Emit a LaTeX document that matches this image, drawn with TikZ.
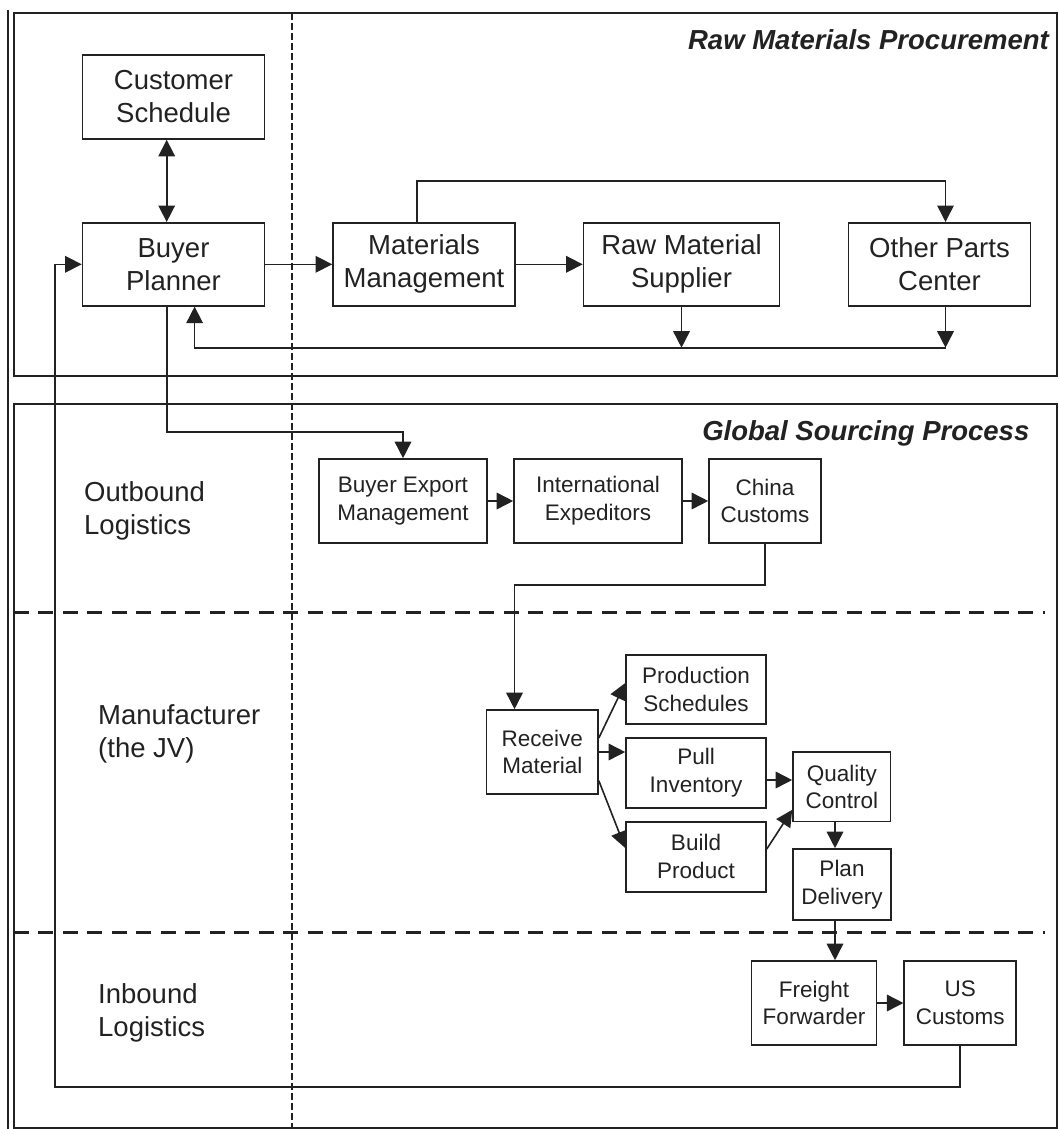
\documentclass[tikz,border=0pt]{standalone}
\usepackage{fontspec}
\setmainfont{Liberation Sans}
\usetikzlibrary{arrows.meta}
\definecolor{ink}{RGB}{34,34,34}
\begin{document}
\begin{tikzpicture}[x=1pt,y=-1pt,
  frame/.style={draw=ink, line width=1.6pt},
  lanesep/.style={draw=ink, line width=3pt, dash pattern=on 15pt off 9.5pt},
  colsep/.style={draw=ink, line width=1.3pt, dash pattern=on 6.5pt off 3.5pt},
  bigbox/.style={draw=ink, line width=1.6pt, text=ink, align=center, inner sep=0pt,
    font=\fontsize{27.5}{33}\selectfont},
  smallbox/.style={bigbox, font=\fontsize{22.5}{27.7}\selectfont},
  sz/.style 2 args={minimum width=#1pt, minimum height=#2pt},
  lane/.style={text=ink, align=left, anchor=west, inner sep=0pt,
    font=\fontsize{27.5}{33}\selectfont},
  heading/.style={text=ink, anchor=base east, inner sep=0pt,
    font=\fontsize{27.5}{33}\selectfont\bfseries\itshape},
  tip/.tip={Triangle[length=16.5pt,width=16.5pt]},
  flow/.style={draw=ink, line width=1.6pt, -tip},
  twoway/.style={draw=ink, line width=1.6pt, tip-tip}]

\useasboundingbox (0,0) rectangle (1059,1129);

% section frames and separators
\draw[frame] (8,10) -- (8,1129);
\draw[frame] (13.8,13.3) rectangle (1057,375.7);
\draw[frame] (13.8,404) rectangle (1057,1127.7);
\draw[lanesep] (13.8,612.3) -- (1045,612.3);
\draw[lanesep] (13.8,932.7) -- (1045,932.7);
\draw[colsep] (292,13.3) -- (292,1129);

% headings and lane labels
\node[heading] (hraw) at (1049,50) {Raw Materials Procurement};
\node[heading] (hglobal) at (1029.5,440) {Global Sourcing Process};
\node[lane] (lout) at (84,511) {Outbound\\Logistics};
\node[lane] (lman) at (98,734) {Manufacturer\\(the JV)};
\node[lane] (lin) at (98,1012.5) {Inbound\\Logistics};

% raw materials procurement
\node[bigbox, sz={182}{84}] (cs) at (173.5,97) {Customer\\Schedule};
\node[bigbox, sz={182}{83}] (bp) at (173.5,264.3) {Buyer\\Planner};
\node[bigbox, sz={182}{83}] (mm) at (424,264.3) {Materials\\Management};
\node[bigbox, sz={196}{83}] (rms) at (681.5,264.3) {Raw Material\\Supplier};
\node[bigbox, sz={182}{83}] (opc) at (939.5,264.3) {Other Parts\\Center};

% global sourcing process
\node[smallbox, sz={168}{84}] (bem) at (403,501) {Buyer Export\\Management};
\node[smallbox, sz={168}{84}] (ie) at (598,501) {International\\Expeditors};
\node[smallbox, sz={112}{84}] (cc) at (765,501) {China\\Customs};
\node[smallbox, sz={111.4}{84}] (rm) at (542.3,752) {Receive\\Material};
\node[smallbox, sz={140}{69}] (ps) at (696,689.5) {Production\\Schedules};
\node[smallbox, sz={140}{70}] (pi) at (696,773) {Pull\\Inventory};
\node[smallbox, sz={140}{70}] (bpr) at (696,856.7) {Build\\Product};
\node[smallbox, sz={97.6}{69.7}] (qc) at (841.8,786.8) {Quality\\Control};
\node[smallbox, sz={98}{71}] (pd) at (842,884.5) {Plan\\Delivery};
\node[smallbox, sz={125.2}{84}] (ff) at (814,1003) {Freight\\Forwarder};
\node[smallbox, sz={112}{84}] (usc) at (960.25,1003) {US\\Customs};

% routing helpers
\coordinate (xcs) at (166.7,0);
\coordinate (xmm) at (417,0);
\coordinate (xopc) at (945.5,0);
\coordinate (xret) at (194.6,0);
\coordinate (xloop) at (55,0);
\coordinate (xdrop) at (514.5,0);
\coordinate (xqc) at (835,0);
\coordinate (ytop) at (0,181);
\coordinate (yret) at (0,347.7);
\coordinate (ybem) at (0,431.7);
\coordinate (ydrop) at (0,585);
\coordinate (yloop) at (0,1086.7);
\coordinate (piout) at ([yshift=-7pt]pi.east);

% connectors: procurement
\draw[twoway] (cs.south -| xcs) -- (bp.north -| xcs);
\draw[flow] (bp.east) -- (mm.west);
\draw[flow] (mm.east) -- (rms.west);
\draw[flow] (mm.north -| xmm) -- (xmm |- ytop) -- (xopc |- ytop) -- (opc.north -| xopc);
\draw[flow] (rms.south) -- (rms.south |- yret);
\draw[flow] (opc.south -| xopc) -- (xopc |- yret);
\draw[flow] (xopc |- yret) -- (xret |- yret) -- (bp.south -| xret);

% connectors: sourcing
\draw[flow] (bp.south -| xcs) -- (xcs |- ybem) -- (bem.north |- ybem) -- (bem.north);
\draw[flow] (bem.east) -- (ie.west);
\draw[flow] (ie.east) -- (cc.west);
\draw[flow] (cc.south) -- (cc.south |- ydrop) -- (xdrop |- ydrop) -- (rm.north -| xdrop);
\draw[flow] ([yshift=14pt]rm.east) -- ([yshift=6.5pt]ps.west);
\draw[flow] (rm.east) -- (rm.east -| pi.west);
\draw[flow] ([yshift=-28.7pt]rm.east) -- ([yshift=8.7pt]bpr.west);
\draw[flow] (piout) -- (piout -| qc.west);
\draw[flow] ([yshift=7.7pt]bpr.east) -- ([yshift=-23pt]qc.west);
\draw[flow] (qc.south -| xqc) -- (pd.north -| xqc);
\draw[flow] (pd.south -| xqc) -- (ff.north -| xqc);
\draw[flow] (ff.east) -- (usc.west);
\draw[flow] (usc.south) -- (usc.south |- yloop) -- (xloop |- yloop) -- (xloop |- bp.west) -- (bp.west);

\end{tikzpicture}
\end{document}
